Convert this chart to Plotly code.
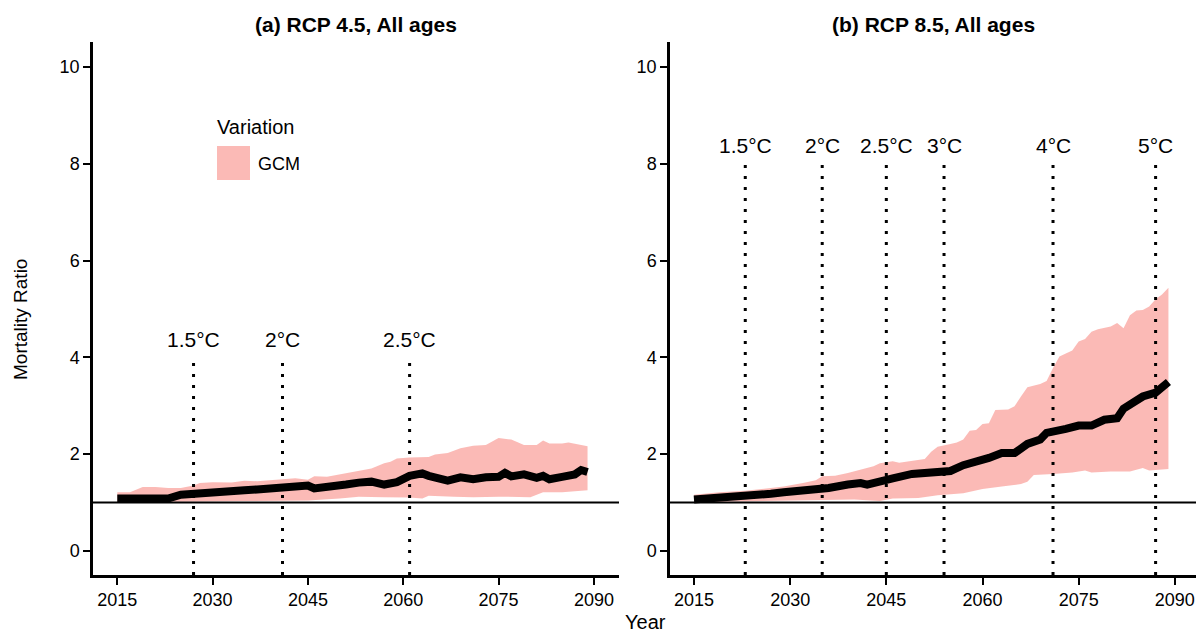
import plotly.graph_objects as go

# ---------------- data: panel (a) RCP 4.5 ----------------
years_a_mean = [2015, 2019, 2023, 2025, 2027, 2030, 2033, 2035, 2037, 2041, 2043, 2045, 2046,
                2048, 2051, 2053, 2055, 2057, 2059, 2061, 2063, 2064, 2067, 2069, 2071, 2073,
                2075, 2076, 2077, 2079, 2081, 2082, 2083, 2085, 2087, 2088, 2089]
mean_a = [1.08, 1.08, 1.08, 1.16, 1.17, 1.20, 1.22, 1.25, 1.27, 1.29, 1.33, 1.35, 1.29,
          1.31, 1.37, 1.41, 1.43, 1.37, 1.42, 1.55, 1.60, 1.55, 1.45, 1.52, 1.48, 1.52,
          1.53, 1.61, 1.54, 1.58, 1.51, 1.55, 1.48, 1.53, 1.58, 1.67, 1.63]

years_a_up = [2015, 2017, 2019, 2021, 2023, 2025, 2027, 2028, 2030, 2033, 2035, 2037, 2041,
              2043, 2045, 2046, 2048, 2051, 2053, 2055, 2057, 2058, 2059, 2061, 2064, 2065,
              2067, 2069, 2071, 2073, 2075, 2077, 2079, 2081, 2082, 2083, 2085, 2086, 2089]
upper_a = [1.21, 1.21, 1.32, 1.32, 1.30, 1.30, 1.35, 1.40, 1.42, 1.41, 1.45, 1.44, 1.48,
           1.50, 1.47, 1.54, 1.53, 1.60, 1.64, 1.70, 1.81, 1.84, 1.91, 1.93, 1.94, 1.99,
           2.02, 2.12, 2.17, 2.19, 2.33, 2.30, 2.19, 2.19, 2.28, 2.22, 2.22, 2.24, 2.16]

years_a_lo = [2015, 2025, 2035, 2045, 2050, 2053, 2057, 2061, 2063, 2064, 2068, 2071, 2075,
              2080, 2082, 2085, 2088, 2089]
lower_a = [1.00, 1.01, 1.03, 1.04, 1.08, 1.12, 1.11, 1.10, 1.08, 1.14, 1.12, 1.11, 1.12,
           1.11, 1.21, 1.21, 1.24, 1.25]

thr_a_years = [2027, 2041, 2061]
thr_a_labels = ["1.5°C", "2°C", "2.5°C"]

# ---------------- data: panel (b) RCP 8.5 ----------------
years_b_mean = [2015, 2019, 2020, 2023, 2027, 2029, 2032, 2034, 2036, 2039, 2041, 2042, 2044,
                2046, 2049, 2051, 2053, 2055, 2057, 2059, 2061, 2063, 2065, 2067, 2069, 2070,
                2071, 2073, 2075, 2076, 2077, 2079, 2081, 2082, 2084, 2085, 2087, 2089]
mean_b = [1.06, 1.09, 1.09, 1.15, 1.18, 1.21, 1.24, 1.24, 1.30, 1.37, 1.40, 1.37, 1.45,
          1.50, 1.59, 1.62, 1.64, 1.65, 1.77, 1.83, 1.92, 2.02, 2.02, 2.21, 2.30, 2.44,
          2.46, 2.52, 2.59, 2.58, 2.59, 2.71, 2.74, 2.94, 3.08, 3.19, 3.27, 3.49]

years_b_up = [2015, 2019, 2023, 2026, 2029, 2032, 2034, 2035, 2037, 2039, 2041, 2043, 2044,
              2046, 2047, 2049, 2051, 2052, 2053, 2055, 2056, 2057, 2058, 2059, 2060, 2061,
              2062, 2064, 2065, 2066, 2067, 2069, 2070, 2071, 2072, 2073, 2074, 2075, 2076,
              2077, 2078, 2080, 2081, 2082, 2083, 2084, 2085, 2086, 2087, 2088, 2089]
upper_b = [1.16, 1.21, 1.24, 1.28, 1.33, 1.40, 1.46, 1.54, 1.55, 1.61, 1.68, 1.75, 1.81,
           1.85, 1.82, 1.86, 1.90, 2.05, 2.15, 2.21, 2.24, 2.30, 2.48, 2.50, 2.62, 2.64,
           2.91, 2.92, 2.99, 3.19, 3.38, 3.45, 3.51, 3.78, 4.02, 4.08, 4.14, 4.33, 4.38,
           4.53, 4.58, 4.64, 4.71, 4.60, 4.87, 4.97, 4.98, 5.05, 5.20, 5.30, 5.44]

years_b_lo = [2015, 2020, 2030, 2040, 2044, 2046, 2050, 2053, 2057, 2060, 2063, 2066, 2067,
              2068, 2071, 2074, 2076, 2077, 2080, 2083, 2085, 2086, 2089]
lower_b = [1.00, 1.02, 1.04, 1.06, 1.03, 1.08, 1.09, 1.15, 1.19, 1.28, 1.33, 1.38, 1.43,
           1.57, 1.59, 1.62, 1.66, 1.62, 1.64, 1.64, 1.71, 1.66, 1.69]

thr_b_years = [2023, 2035, 2045, 2054, 2071, 2087]
thr_b_labels = ["1.5°C", "2°C", "2.5°C", "3°C", "4°C", "5°C"]

x_ticks = [2015, 2030, 2045, 2060, 2075, 2090]
y_ticks = [0, 2, 4, 6, 8, 10]
titles = ["(a) RCP 4.5, All ages", "(b) RCP 8.5, All ages"]
legend_title = "Variation"
legend_item = "GCM"

# ---------------- styling ----------------
W, H = 1196, 635
FONT = "Liberation Sans, Arial, sans-serif"
RIBBON = "rgba(248,118,109,0.5)"
Y_RANGE = [-0.50, 10.52]


def px_x(p):
    return p / W


def px_y(p):
    return 1 - p / H


fig = go.Figure()

panels = [
    dict(xa="x", ya="y", ym=years_a_mean, m=mean_a, yu=years_a_up, u=upper_a,
         yl=years_a_lo, l=lower_a, thr=thr_a_years, lab=thr_a_labels, top=4.0, laby=4.37),
    dict(xa="x2", ya="y2", ym=years_b_mean, m=mean_b, yu=years_b_up, u=upper_b,
         yl=years_b_lo, l=lower_b, thr=thr_b_years, lab=thr_b_labels, top=8.0, laby=8.37),
]

annotations = []
shapes = []
for p in panels:
    # ribbon
    fig.add_trace(go.Scatter(
        x=p["yu"] + p["yl"][::-1], y=p["u"] + p["l"][::-1],
        xaxis=p["xa"], yaxis=p["ya"], mode="lines", fill="toself",
        fillcolor=RIBBON, line=dict(width=0), hoverinfo="skip", showlegend=False))
    # threshold dotted lines
    for yr in p["thr"]:
        fig.add_trace(go.Scatter(
            x=[yr, yr], y=[Y_RANGE[0], p["top"]], xaxis=p["xa"], yaxis=p["ya"],
            mode="lines", line=dict(color="black", width=3, dash="3px,8px"),
            hoverinfo="skip", showlegend=False))
    for yr, lab in zip(p["thr"], p["lab"]):
        annotations.append(dict(x=yr, y=p["laby"], xref=p["xa"], yref=p["ya"], text=lab,
                                showarrow=False, xanchor="center", yanchor="middle",
                                font=dict(size=21, color="black", family=FONT)))
    # reference line at 1
    shapes.append(dict(type="line", xref=p["xa"] + " domain", x0=0, x1=1,
                       yref=p["ya"], y0=1, y1=1, line=dict(color="black", width=2)))
    # mean line
    fig.add_trace(go.Scatter(
        x=p["ym"], y=p["m"], xaxis=p["xa"], yaxis=p["ya"], mode="lines",
        line=dict(color="black", width=8), showlegend=False))

axis_common = dict(showline=True, linecolor="black", linewidth=2.5, ticks="outside",
                   ticklen=7, tickwidth=2, tickcolor="black", showgrid=False, zeroline=False,
                   tickfont=dict(size=18, color="black", family=FONT))

fig.update_layout(
    width=W, height=H, margin=dict(l=0, r=0, t=0, b=0),
    paper_bgcolor="white", plot_bgcolor="white", showlegend=False,
    font=dict(family=FONT, color="black"),
    xaxis=dict(domain=[px_x(93), px_x(619)], range=[2011.18, 2093.95], tickvals=x_ticks,
               anchor="y", **axis_common),
    yaxis=dict(domain=[px_y(575), px_y(42)], range=Y_RANGE, tickvals=y_ticks,
               anchor="x", **axis_common),
    xaxis2=dict(domain=[px_x(670), px_x(1196)], range=[2011.26, 2093.3], tickvals=x_ticks,
                anchor="y2", **axis_common),
    yaxis2=dict(domain=[px_y(575), px_y(42)], range=Y_RANGE, tickvals=y_ticks,
                anchor="x2", **axis_common),
)

# panel titles
for t, cx in zip(titles, [356, 933]):
    annotations.append(dict(x=px_x(cx), y=px_y(24), xref="paper", yref="paper", text="<b>" + t + "</b>",
                            showarrow=False, xanchor="center", yanchor="middle",
                            font=dict(size=21, color="black", family=FONT)))
# axis titles
annotations.append(dict(x=px_x(645), y=px_y(622), xref="paper", yref="paper", text="Year",
                        showarrow=False, xanchor="center", yanchor="middle",
                        font=dict(size=20, color="black", family=FONT)))
annotations.append(dict(x=px_x(20), y=px_y(320), xref="paper", yref="paper", text="Mortality Ratio",
                        showarrow=False, xanchor="center", yanchor="middle", textangle=-90,
                        font=dict(size=19, color="black", family=FONT)))
# legend
annotations.append(dict(x=px_x(215), y=px_y(127), xref="paper", yref="paper", text=legend_title,
                        showarrow=False, xanchor="left", yanchor="middle",
                        font=dict(size=20, color="black", family=FONT)))
annotations.append(dict(x=px_x(256), y=px_y(164), xref="paper", yref="paper", text=legend_item,
                        showarrow=False, xanchor="left", yanchor="middle",
                        font=dict(size=18, color="black", family=FONT)))
shapes.append(dict(type="rect", xref="paper", yref="paper", x0=px_x(217), x1=px_x(250),
                   y0=px_y(180), y1=px_y(146), fillcolor=RIBBON, line=dict(width=0)))

fig.update_layout(annotations=annotations, shapes=shapes)
fig.write_html("out.html")
